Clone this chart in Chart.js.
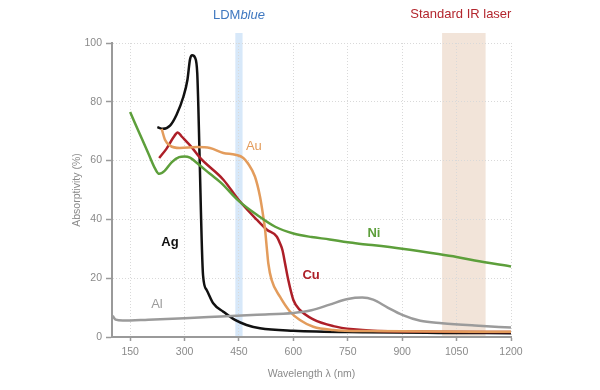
<!DOCTYPE html>
<html>
<head>
<meta charset="utf-8">
<script src="https://cdn.jsdelivr.net/npm/chart.js@4/dist/chart.umd.min.js"></script>
<style>
  html, body { margin: 0; padding: 0; background: #fff; }
  #wrap { width: 600px; height: 390px; }
</style>
</head>
<body>
<div id="wrap"><canvas id="chart"></canvas></div>
<script>
// wavelength (nm) / absorptivity (%)
const nmAg = [225, 240, 260, 278, 297, 308, 315, 321, 329, 335, 338, 341, 351, 361, 379, 407, 439, 471, 508, 600, 800, 1000, 1200];
const absAg = [71.4, 70.8, 71.9, 75.6, 81.8, 87.5, 94.4, 95.8, 95, 89.8, 78.5, 63.7, 21, 16, 11.5, 8.6, 5.8, 4.1, 2.95, 2.1, 1.6, 1.4, 1.3];

const nmAu = [237, 246, 260, 287, 335, 370, 407, 440, 462, 475, 494, 508, 517, 522, 527, 531, 540, 563, 591, 618, 655, 710, 800, 1200];
const absAu = [70.8, 67.1, 65.1, 64.3, 64.6, 64.3, 62.6, 62, 60.9, 59, 54.6, 47.8, 41, 36.5, 30, 25, 19.4, 13.7, 8.6, 5.8, 3.5, 2.4, 2.0, 1.8];

const nmCu = [230, 250, 270, 281, 292, 320, 343, 407, 450, 499, 527, 554, 563, 570, 577, 586, 600, 618, 655, 710, 765, 820, 1000, 1200];
const absCu = [60.9, 64, 68, 69.6, 68.2, 64.5, 60.9, 53.5, 46.5, 39.9, 36.5, 34.2, 31.9, 29.5, 25.1, 19.4, 12.6, 9.2, 6.0, 3.7, 2.6, 2.1, 1.8, 1.7];

const nmNi = [150, 175, 200, 220, 230, 245, 265, 285, 300, 315, 340, 370, 400, 450, 500, 550, 600, 650, 700, 750, 800, 900, 1000, 1050, 1100, 1200];
const absNi = [76.5, 69.5, 62.5, 57, 55.5, 56.5, 59.5, 61.2, 61.4, 61, 58.6, 55.5, 52.5, 46.2, 41.5, 37.5, 35.2, 34, 33.2, 32.2, 31.5, 30, 28.2, 27.2, 26.0, 24];

const nmAl = [102, 110, 130, 200, 300, 400, 500, 600, 650, 700, 750, 790, 820, 860, 900, 950, 1010, 1100, 1200];
const absAl = [7.2, 5.9, 5.6, 5.9, 6.4, 7.0, 7.6, 8.2, 9.1, 11, 12.9, 13.4, 12.7, 10, 7.5, 5.5, 4.7, 3.9, 3.2];

const xTicks = [150, 300, 450, 600, 750, 900, 1050, 1200];
const blueBand = [440, 460];
const irBand = [1010, 1130];

function pts(xs, ys) {
  return xs.map((x, i) => ({ x: x, y: ys[i] }));
}

const series = [
  { label: 'Al', nm: nmAl, abs: absAl, color: '#9b9b9b', font: 'normal', at: [224, 11.2] },
  { label: 'Ni', nm: nmNi, abs: absNi, color: '#5d9f3b', font: 'bold', at: [822, 35.4] },
  { label: 'Au', nm: nmAu, abs: absAu, color: '#e39c5c', font: 'normal', at: [491, 64.7] },
  { label: 'Cu', nm: nmCu, abs: absCu, color: '#ad1f28', font: 'bold', at: [649, 21] },
  { label: 'Ag', nm: nmAg, abs: absAg, color: '#111111', font: 'bold', at: [260, 32] },
];

const FONT = '"Liberation Sans", Arial, sans-serif';

const decor = {
  id: 'decor',
  beforeDraw(chart) {
    const ctx = chart.ctx;
    const x = chart.scales.x;
    const area = chart.chartArea;
    const top = area.top - 10;
    ctx.save();
    ctx.fillStyle = 'rgba(160, 200, 240, 0.42)';
    let a = x.getPixelForValue(blueBand[0]), b = x.getPixelForValue(blueBand[1]);
    ctx.fillRect(a, top, b - a, area.bottom - top);
    ctx.fillStyle = 'rgba(225, 190, 165, 0.42)';
    a = x.getPixelForValue(irBand[0]); b = x.getPixelForValue(irBand[1]);
    ctx.fillRect(a, top, b - a, area.bottom - top);

    // band captions
    ctx.textBaseline = 'middle';
    ctx.font = '13px ' + FONT;
    const w1 = ctx.measureText('LDM').width;
    ctx.font = 'italic 13px ' + FONT;
    const w2 = ctx.measureText('blue').width;
    const cx = x.getPixelForValue((blueBand[0] + blueBand[1]) / 2);
    let sx = cx - (w1 + w2) / 2;
    ctx.fillStyle = '#3f78c0';
    ctx.textAlign = 'left';
    ctx.font = '13px ' + FONT;
    ctx.fillText('LDM', sx, 15);
    ctx.font = 'italic 13px ' + FONT;
    ctx.fillText('blue', sx + w1, 15);

    ctx.fillStyle = '#b3262e';
    ctx.textAlign = 'center';
    ctx.font = '13px ' + FONT;
    ctx.fillText('Standard IR laser', x.getPixelForValue((irBand[0] + irBand[1]) / 2) - 3, 14);
    ctx.restore();
  },
  afterDatasetsDraw(chart) {
    const ctx = chart.ctx;
    const x = chart.scales.x, y = chart.scales.y;
    ctx.save();
    ctx.textAlign = 'center';
    ctx.textBaseline = 'middle';
    series.forEach((s) => {
      ctx.font = s.font + ' 13px ' + FONT;
      ctx.fillStyle = s.color;
      ctx.fillText(s.label, x.getPixelForValue(s.at[0]), y.getPixelForValue(s.at[1]));
    });
    ctx.restore();
  }
};

new Chart(document.getElementById('chart'), {
  type: 'line',
  data: {
    datasets: series.map((s) => ({
      label: s.label,
      data: pts(s.nm, s.abs),
      borderColor: s.color,
      borderWidth: 2.5,
      pointRadius: 0,
      fill: false,
      cubicInterpolationMode: 'monotone',
    })),
  },
  options: {
    responsive: true,
    maintainAspectRatio: false,
    animation: false,
    layout: { padding: { top: 43, right: 89, left: 0, bottom: 0 } },
    plugins: { legend: { display: false }, tooltip: { enabled: false } },
    scales: {
      x: {
        type: 'linear',
        min: 100,
        max: 1200,
        afterBuildTicks: (scale) => { scale.ticks = xTicks.map((v) => ({ value: v })); },
        afterFit: (scale) => { scale.height = 53; },
        grid: { color: '#d9d9d9', tickColor: '#9a9a9a', tickLength: 4, tickWidth: 1.5 },
        border: { color: '#9a9a9a', width: 2, dash: [1, 2] },
        ticks: { color: '#8a8a8a', font: { family: FONT, size: 10.5 }, padding: 5, maxRotation: 0, callback: (v) => String(v) },
        title: { display: true, text: 'Wavelength λ (nm)', color: '#8a8a8a', font: { family: FONT, size: 10.5 }, padding: { bottom: 10 } },
      },
      y: {
        min: 0,
        max: 100,
        afterFit: (scale) => { scale.width = 112; },
        grid: { color: '#d9d9d9', tickColor: '#9a9a9a', tickLength: 6, tickWidth: 1.5 },
        border: { color: '#9a9a9a', width: 2, dash: [1, 2] },
        ticks: { stepSize: 20, color: '#8a8a8a', font: { family: FONT, size: 10.5 }, padding: 4 },
        title: { display: true, text: 'Absorptivity (%)', color: '#8a8a8a', font: { family: FONT, size: 10.5 }, padding: { top: 71 } },
      },
    },
  },
  plugins: [decor],
});
</script>
</body>
</html>
